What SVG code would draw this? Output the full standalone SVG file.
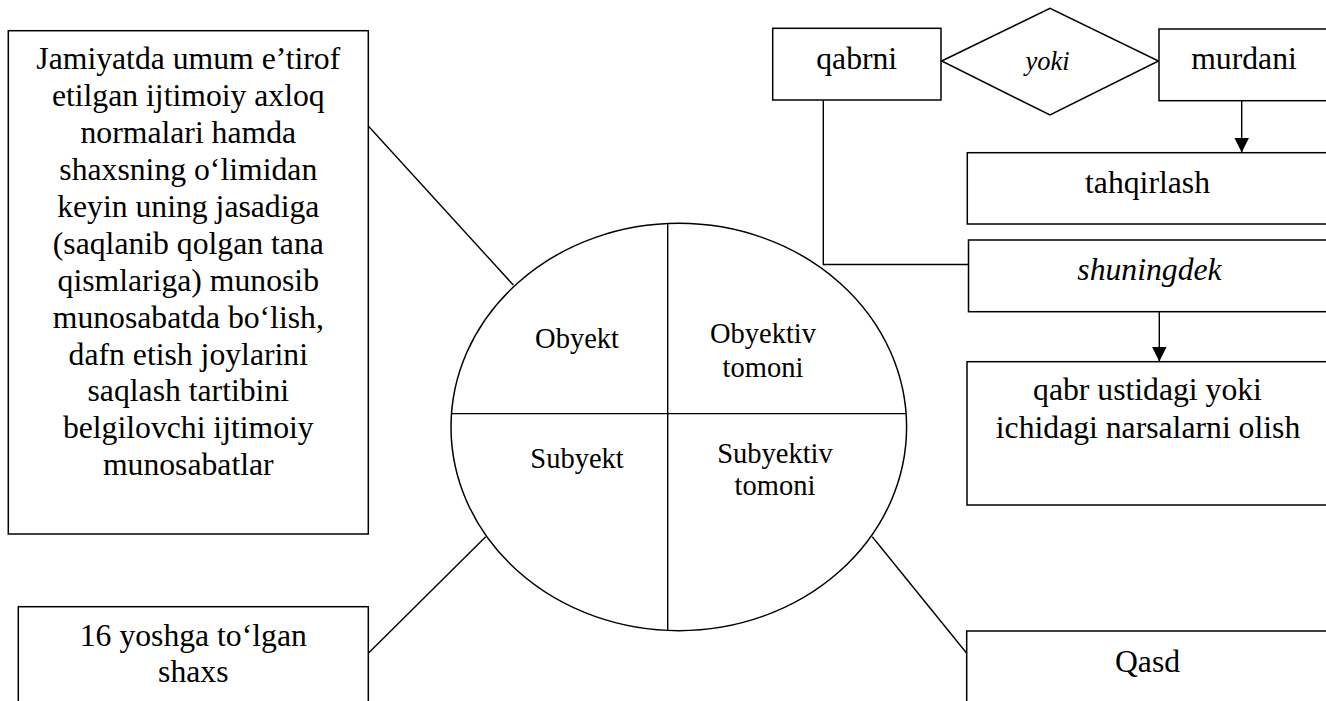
<svg xmlns="http://www.w3.org/2000/svg" width="1326" height="701" viewBox="0 0 1326 701">
<style>
.box{fill:#fff;stroke:#000;stroke-width:1.5}
.ln{fill:none;stroke:#000;stroke-width:1.4}
text{font-family:'Liberation Serif','DejaVu Serif',serif;font-size:31.7px;fill:#000;text-anchor:middle}
.s{font-size:28.5px}
.i{font-style:italic}
</style>
<defs>
<marker id="arr" markerUnits="userSpaceOnUse" markerWidth="15" markerHeight="15" viewBox="0 0 15 15" refX="15" refY="7.5" orient="auto">
<path d="M0,0 L15,7.5 L0,15 z" fill="#000"/>
</marker>
</defs>
<rect width="1326" height="701" fill="#fff"/>
<g id="connectors">
<line class="ln" x1="368.3" y1="126" x2="513.3" y2="285"/>
<line class="ln" x1="368.3" y1="653.3" x2="485.7" y2="536.7"/>
<line class="ln" x1="872.3" y1="536.7" x2="966.7" y2="653.3"/>
<polyline class="ln" points="823.3,100 823.3,264.5 968,264.5"/>
<line class="ln" x1="1241.7" y1="101" x2="1241.7" y2="152.5" marker-end="url(#arr)"/>
<line class="ln" x1="1159.3" y1="312" x2="1159.3" y2="361.5" marker-end="url(#arr)"/>
</g>
<g id="node-object-desc">
<rect class="box" x="8.3" y="30.7" width="360" height="503.3"/>
<text x="188.3" y="69.3">Jamiyatda umum e’tirof</text>
<text x="188.3" y="106.2">etilgan ijtimoiy axloq</text>
<text x="188.3" y="143.1">normalari hamda</text>
<text x="188.3" y="180">shaxsning o‘limidan</text>
<text x="188.3" y="216.9">keyin uning jasadiga</text>
<text x="188.3" y="253.8">(saqlanib qolgan tana</text>
<text x="188.3" y="290.7">qismlariga) munosib</text>
<text x="188.3" y="327.6">munosabatda bo‘lish,</text>
<text x="188.3" y="364.5">dafn etish joylarini</text>
<text x="188.3" y="401.4">saqlash tartibini</text>
<text x="188.3" y="438.3">belgilovchi ijtimoiy</text>
<text x="188.3" y="475.2">munosabatlar</text>
</g>
<g id="node-subject-desc">
<rect class="box" x="18.3" y="606.7" width="350" height="110"/>
<text x="193.3" y="646">16 yoshga to‘lgan</text>
<text x="193.3" y="682.3">shaxs</text>
</g>
<g id="node-ellipse">
<ellipse class="box" cx="678.8" cy="427" rx="227.8" ry="203.7"/>
<line class="ln" x1="667.7" y1="223.5" x2="667.7" y2="630.5"/>
<line class="ln" x1="451.5" y1="413.6" x2="906.1" y2="413.6"/>
<text class="s" x="577" y="348">Obyekt</text>
<text class="s" x="763" y="343.3">Obyektiv</text>
<text class="s" x="763" y="376.7">tomoni</text>
<text class="s" x="577" y="468.3">Subyekt</text>
<text class="s" x="775" y="462.7">Subyektiv</text>
<text class="s" x="775" y="495">tomoni</text>
</g>
<g id="node-qabrni">
<rect class="box" x="772.7" y="28.3" width="168.3" height="71.7"/>
<text x="856.7" y="69">qabrni</text>
</g>
<g id="node-yoki">
<polygon class="box" points="941.7,61 1050,8.3 1158.5,61 1050,115"/>
<text class="i" x="1047.5" y="70" style="font-size:26.5px">yoki</text>
</g>
<g id="node-murdani">
<rect class="box" x="1159" y="29" width="180" height="71.7"/>
<text x="1244" y="69">murdani</text>
</g>
<g id="node-tahqirlash">
<rect class="box" x="967.3" y="152.7" width="372" height="71.3"/>
<text x="1147.5" y="193">tahqirlash</text>
</g>
<g id="node-shuningdek">
<rect class="box" x="968.5" y="240" width="372" height="71.7"/>
<text class="i" x="1149.5" y="280">shuningdek</text>
</g>
<g id="node-qabr-ustidagi">
<rect class="box" x="967" y="361.7" width="372" height="143.3"/>
<text x="1147.5" y="400">qabr ustidagi yoki</text>
<text x="1148" y="438">ichidagi narsalarni olish</text>
</g>
<g id="node-qasd">
<rect class="box" x="966.7" y="631" width="372" height="90"/>
<text x="1147.5" y="671.7">Qasd</text>
</g>
</svg>
